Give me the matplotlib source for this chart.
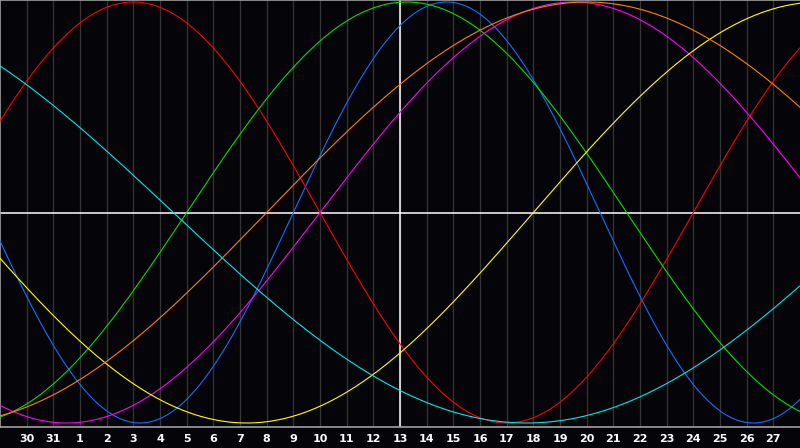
import numpy as np
import matplotlib
matplotlib.use("Agg")
import matplotlib.pyplot as plt

# day labels under each grid line (previous month ends on 31)
day_labels = [30, 31] + list(range(1, 28))
today_index = 15          # grid line of day 13

# cycle periods (days) and the day of the cycle on "today"
periods = [23, 28, 33, 38, 43, 48, 53]
phase_today = [4, 17, 8, 3, 38, 5, 35]
colors = ["#1070ff", "#ff0000", "#00e000", "#ff00ff", "#ffff00", "#ff8000", "#00e8e8"]

bg = "#050408"
fig = plt.figure(figsize=(8, 4.48), dpi=100, facecolor=bg)
ax = fig.add_axes([0, 1 - 427 / 448, 1, 427 / 448])
ax.set_facecolor(bg)

n_cols = len(day_labels) + 1
t = np.linspace(0, n_cols, 1200)

for k in range(1, n_cols):
    ax.axvline(k, color="#353535", lw=0.9, zorder=1)
ax.axvline(today_index, color="white", lw=1.1, zorder=2)
ax.axhline(0, color="white", lw=1.1, zorder=2)

for p, ph, c in zip(periods, phase_today, colors):
    y = np.sin(2 * np.pi * (ph + t - today_index) / p)
    ax.plot(t, y, color=c, lw=0.8, zorder=3)

ax.set_xlim(0, n_cols)
ax.set_ylim(-1.019, 1.0095)
ax.set_xticks([])
ax.set_yticks([])
for s in ax.spines.values():
    s.set_color("#a0a0a0")
    s.set_linewidth(1.2)
ax.spines["right"].set_visible(False)

for k, lab in enumerate(day_labels, start=1):
    fig.text(k / n_cols, 1 - 439 / 448, str(lab), color="white",
             fontsize=8, fontweight="bold", ha="center", va="center",
             family="DejaVu Sans")

fig.savefig("out.png", dpi=100, facecolor=bg)
